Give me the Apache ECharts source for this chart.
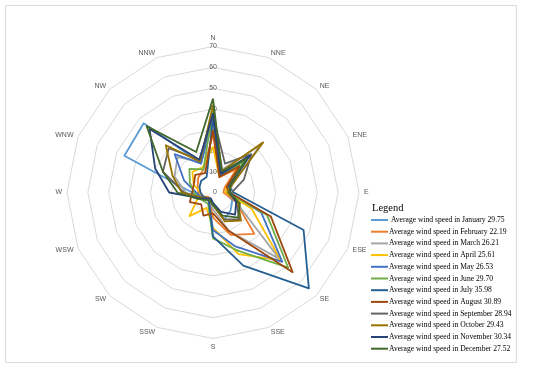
<!DOCTYPE html>
<html><head><meta charset="utf-8">
<script src="https://cdn.jsdelivr.net/npm/echarts@6/dist/echarts.min.js"></script>
<style>html,body{margin:0;padding:0;background:#fff}#c{width:550px;height:372px}</style>
</head><body><div id="c"></div>
<script>
const directions = ['N','NNE','NE','ENE','E','ESE','SE','SSE','S','SSW','SW','WSW','W','WNW','NW','NNW'];
const ringTicks = [0,10,20,30,40,50,60,70];
const legendNames = [
  ' Average wind speed in January 29.75',
  'Average wind speed in February 22.19',
  'Average wind speed in March 26.21',
  'Average wind speed in April 25.61',
  'Average wind speed in May 26.53',
  'Average wind speed in June 29.70',
  'Average wind speed in July 35.98',
  'Average wind speed in August 30.89',
  'Average wind speed in September 28.94',
  'Average wind speed in October 29.43',
  'Average wind speed in November 30.34',
  'Average wind speed in December 27.52'
];
// values per direction: N, NNE, NE, ENE, E, ESE, SE, SSE, S, SSW, SW, WSW, W, WNW, NW, NNW
const jan = [35,10,22,8,6,10,12,14,6,3,4,6,10,46,47,15];
const feb = [28,8,16,6,5,12,28,22,12,4,3,5,7,8,10,12];
const mar = [33,12,32,10,7,12,45,20,8,4,5,8,13,20,24,16];
const apr = [22,8,18,7,6,20,46,32,17,8,16,8,6,10,14,13];
const may = [37,10,24,9,8,25,47,28,18,5,4,6,8,15,26,15];
const jun = [40,9,21,8,7,28,51,30,22,6,6,7,9,12,16,12];
const jul = [36,9,24,8,10,47,65,38,21,5,4,5,6,7,8,8];
const aug = [30,8,18,7,8,30,54,20,10,12,8,12,10,10,12,10];
const sep = [37,15,26,16,9,12,18,14,6,4,4,6,14,26,30,17];
const oct = [42,11,34,10,7,13,19,15,6,4,4,6,15,21,32,16];
const nov = [38,10,25,9,8,12,15,10,5,3,4,7,21,30,43,17];
const dec = [45,11,23,9,8,14,17,12,6,4,5,8,17,26,45,21];
const seriesValues = [jan,feb,mar,apr,may,jun,jul,aug,sep,oct,nov,dec];
const colors = ['#5B9BD5','#ED7D31','#A5A5A5','#FFC000','#4472C4','#70AD47','#255E91','#9E480E','#636363','#997300','#264478','#43682B'];

// ECharts radar runs counter-clockwise; list directions in reverse (keeping N first) so they appear clockwise
const order = directions.map((d,i) => (directions.length - i) % directions.length);

const chart = echarts.init(document.getElementById('c'), null, {renderer:'canvas'});
const indicator = order.map((k,i) => {
  const o = {name: directions[k], min: 0, max: ringTicks[ringTicks.length-1]};
  if (i === 0) o.axisLabel = {show: true};
  return o;
});
chart.setOption({
  animation: false,
  color: colors,
  graphic: [{type:'rect', shape:{x:5.5,y:5.5,width:511,height:357}, style:{fill:'none', stroke:'#d9d9d9', lineWidth:1}}],
  title: {text:'Legend', left: 367, top: 198, textStyle:{fontFamily:'Liberation Serif', fontSize:10.5, fontWeight:'normal', color:'#000'}},
  legend: {
    orient:'vertical', left: 366, top: 210, itemWidth: 17, itemHeight: 2, itemGap: 1.7, icon:'rect',
    textStyle:{fontFamily:'Liberation Serif', fontSize:7.6, lineHeight:10, color:'#000', padding:[0,0,0,-4]},
    data: legendNames
  },
  radar: {
    center: [213, 192.5], radius: 146, shape: 'polygon', splitNumber: ringTicks.length-1,
    startAngle: 90, nameGap: 5,
    axisName: {color:'#595959', fontSize:7, fontFamily:'Liberation Sans'},
    axisLine: {show:false},
    axisTick: {show:false},
    splitLine: {lineStyle:{color:'#d9d9d9', width:1}},
    splitArea: {show:false},
    axisLabel: {show:false, color:'#595959', fontSize:7, fontFamily:'Liberation Sans', margin:-4},
    indicator: indicator
  },
  series: seriesValues.map((v,i) => ({
    type:'radar', name: legendNames[i], symbol:'none',
    lineStyle:{width:1.8, color: colors[i]},
    itemStyle:{color: colors[i]},
    data:[{value: order.map(k => v[k]), name: legendNames[i]}]
  }))
});
</script></body></html>
